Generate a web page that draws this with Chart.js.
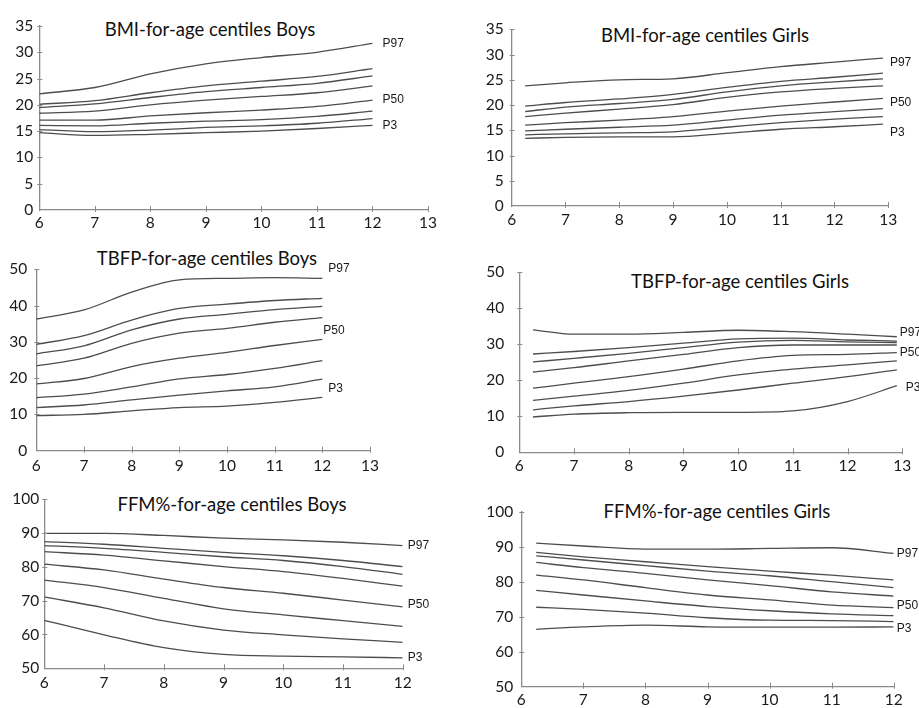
<!DOCTYPE html>
<html><head><meta charset="utf-8">
<script src="https://cdn.jsdelivr.net/npm/chart.js@4/dist/chart.umd.min.js"></script>
<style>
html,body{margin:0;padding:0;background:#fff;width:919px;height:708px;overflow:hidden;position:relative;}
canvas{position:absolute;}
.title{position:absolute;font-family:Lato,"Open Sans",sans-serif;font-size:18.5px;color:#111;white-space:nowrap;transform:translate(-50%,-50%);line-height:22px;}
</style></head><body>
<div class="title" style="left:210px;top:29px">BMI-for-age centiles Boys</div>
<div class="title" style="left:705px;top:35px">BMI-for-age centiles Girls</div>
<div class="title" style="left:207px;top:258px">TBFP-for-age centiles Boys</div>
<div class="title" style="left:740px;top:281px">TBFP-for-age centiles Girls</div>
<div class="title" style="left:232px;top:504px">FFM%-for-age centiles Boys</div>
<div class="title" style="left:717px;top:511px">FFM%-for-age centiles Girls</div>
<canvas id="c1"></canvas><canvas id="c2"></canvas><canvas id="c3"></canvas>
<canvas id="c4"></canvas><canvas id="c5"></canvas><canvas id="c6"></canvas>
<script>
// ---------- DATA ----------
const centiles = ['P3','P10','P25','P50','P75','P85','P90','P97'];
const labelledCentiles = ['P3','P50','P97'];

const bmiBoysAges = [6,7,8,9,10,11,12];
const bmiBoysValues = [
  [14.7,14.2,14.4,14.7,15.0,15.5,16.1],
  [15.3,14.9,15.2,15.7,16.0,16.5,17.4],
  [16.1,16.0,16.5,16.9,17.2,17.8,18.8],
  [17.1,17.1,17.9,18.5,19.0,19.7,20.9],
  [18.4,18.8,20.0,20.9,21.6,22.3,23.6],
  [19.5,20.2,21.4,22.5,23.3,24.1,25.5],
  [20.1,20.8,22.3,23.6,24.5,25.4,26.9],
  [22.1,23.3,25.9,27.8,29.0,30.0,31.7]
];

const bmiGirlsAges = [6.25,7,8,9,10,11,12,12.9];
const bmiGirlsValues = [
  [13.4,13.6,13.7,13.7,14.4,15.2,15.7,16.2],
  [14.1,14.3,14.5,14.7,15.6,16.5,17.2,17.7],
  [14.9,15.2,15.6,16.0,17.0,18.0,18.7,19.3],
  [16.0,16.5,17.0,17.7,18.8,19.8,20.6,21.3],
  [17.7,18.4,19.2,20.1,21.5,22.6,23.3,23.8],
  [18.7,19.6,20.3,21.1,22.6,23.8,24.6,25.2],
  [19.8,20.5,21.2,22.1,23.5,24.7,25.5,26.3],
  [23.8,24.4,25.0,25.2,26.4,27.6,28.5,29.3]
];

const tbfpBoysAges = [6,7,8,9,10,11,12];
const tbfpBoysValues = [
  [9.7,10.0,11.0,11.9,12.3,13.3,14.7],
  [11.9,12.6,14.0,15.3,16.5,17.6,19.7],
  [14.6,15.6,17.6,19.8,21.0,22.7,24.8],
  [18.4,19.9,23.2,25.5,27.1,29.0,30.7],
  [23.4,25.5,29.6,32.4,33.7,35.4,36.7],
  [26.7,28.9,33.3,36.3,37.6,38.9,39.8],
  [29.3,31.7,36.0,39.2,40.4,41.4,42.0],
  [36.3,38.8,43.7,47.1,47.5,47.7,47.5]
];

const tbfpGirlsAges = [6.25,7,8,9,10,11,12,12.9];
const tbfpGirlsValues = [
  [9.8,10.6,11.0,11.1,11.1,11.5,14.1,18.5],
  [11.8,12.9,14.1,15.6,17.3,19.2,21.0,22.9],
  [14.4,15.6,17.2,19.2,21.5,23.1,24.3,25.4],
  [17.8,19.2,21.0,23.1,25.4,26.9,27.2,27.7],
  [22.3,23.5,25.4,27.2,29.1,29.8,29.8,29.8],
  [25.1,26.1,27.5,29.1,30.6,31.1,30.7,30.5],
  [27.3,28.0,29.1,30.3,31.5,31.7,31.2,30.9],
  [34.0,32.8,32.8,33.3,33.9,33.5,32.8,32.1]
];

const ffmBoysAges = [6,7,8,9,10,11,12];
const ffmBoysValues = [
  [64.2,59.9,56.1,54.1,53.6,53.4,53.1],
  [71.1,67.9,64.0,61.3,59.9,58.7,57.7],
  [76.1,73.9,70.7,67.6,65.8,64.1,62.4],
  [80.8,79.1,76.4,73.9,72.2,70.2,68.2],
  [84.5,83.5,81.8,80.1,78.6,76.6,74.3],
  [86.3,85.5,84.3,83.0,81.9,80.1,77.8],
  [87.5,86.7,85.5,84.3,83.3,81.9,80.1],
  [89.9,89.9,89.3,88.5,88.0,87.3,86.3]
];

const ffmGirlsAges = [6.24,7,8,9,10,11,12];
const ffmGirlsValues = [
  [66.4,67.1,67.6,67.1,67.0,67.0,67.1],
  [72.7,72.1,71.0,69.7,69.0,68.9,68.6],
  [77.5,76.2,74.5,72.9,71.7,70.8,70.3],
  [81.9,80.5,78.3,76.2,74.8,73.3,72.6],
  [85.5,84.0,82.4,80.5,78.9,77.1,75.9],
  [87.4,86.2,84.6,83.0,81.7,80.0,78.3],
  [88.4,87.1,85.7,84.3,83.0,81.9,80.5],
  [91.0,90.2,89.3,89.3,89.5,89.7,88.1]
];

// ---------- STYLE / LAYOUT ----------
const LINE = '#4d4d4d', AXIS = '#8a8a8a', TEXT = '#1a1a1a';
const TICK_FONT = {family:'Lato, "Open Sans", sans-serif', size:15.5};

const endLabelPlugin = {
  id:'endLabels',
  afterDatasetsDraw(chart, args, opts){
    const ctx = chart.ctx;
    ctx.save();
    ctx.font = '12px "Liberation Sans", Arial, sans-serif';
    ctx.fillStyle = TEXT;
    ctx.textAlign = 'left';
    ctx.textBaseline = 'middle';
    (opts.items||[]).forEach(it=>{
      const idx = centiles.indexOf(it.name);
      const meta = chart.getDatasetMeta(idx);
      const pt = meta.data[meta.data.length-1];
      ctx.fillText(it.name, pt.x + it.dx, pt.y + it.dy);
    });
    ctx.restore();
  }
};

// small tick marks crossing the axes, placed at the scales' own tick values
const crossTickPlugin = {
  id:'crossTicks',
  afterDraw(chart){
    const ctx = chart.ctx, xs = chart.scales.x, ys = chart.scales.y;
    const ca = chart.chartArea;
    ctx.save();
    ctx.strokeStyle = AXIS; ctx.lineWidth = 1;
    ctx.beginPath();
    xs.ticks.forEach(t=>{
      if (t.value === xs.min) return;
      const px = Math.round(xs.getPixelForValue(t.value)) + 0.5;
      ctx.moveTo(px, ca.bottom - 4); ctx.lineTo(px, ca.bottom + 2);
    });
    ys.ticks.forEach(t=>{
      if (t.value === ys.min) return;
      const py = Math.round(ys.getPixelForValue(t.value)) + 0.5;
      ctx.moveTo(ca.left - 2, py); ctx.lineTo(ca.left + 3, py);
    });
    ctx.stroke();
    ctx.restore();
  }
};

function makeChart(id, box, area, ages, values, xr, yr, pads, labelOffsets){
  const cv = document.getElementById(id);
  cv.width = box[2]; cv.height = box[3];
  cv.style.left = box[0]+'px'; cv.style.top = box[1]+'px';
  const W = area[0]-box[0], H = box[1]+box[3]-area[3];
  const datasets = values.map((row,i)=>({
    label: centiles[i],
    data: row.map((v,j)=>({x:ages[j], y:v})),
    borderColor: LINE, borderWidth: 1.3, pointRadius: 0,
    cubicInterpolationMode: 'monotone', fill:false
  }));
  const items = labelledCentiles.map(n=>({name:n, dx:labelOffsets[n][0], dy:labelOffsets[n][1]}));
  return new Chart(cv, {
    type:'line',
    data:{datasets},
    plugins:[endLabelPlugin, crossTickPlugin],
    options:{
      responsive:false, animation:false, devicePixelRatio:1,
      layout:{padding:{left:0, top: area[1]-box[1], right: box[0]+box[2]-area[2], bottom:0}},
      plugins:{legend:{display:false}, tooltip:{enabled:false}, title:{display:false}, endLabels:{items}},
      scales:{
        x:{type:'linear', min:xr[0], max:xr[1],
           ticks:{stepSize:1, color:TEXT, font:TICK_FONT, padding:pads[0], maxRotation:0},
           grid:{display:true, drawOnChartArea:false, drawTicks:false, color:AXIS},
           border:{display:true, color:AXIS, width:1.3},
           afterFit(s){ s.height = H; }},
        y:{type:'linear', min:yr[0], max:yr[1],
           ticks:{stepSize:yr[2], color:TEXT, font:TICK_FONT, padding:pads[1]},
           grid:{display:true, drawOnChartArea:false, drawTicks:false, color:AXIS},
           border:{display:true, color:AXIS, width:1.3},
           afterFit(s){ s.width = W; }}
      }
    }
  });
}

makeChart('c1',[0,0,460,240],[39.3,26,428,210], bmiBoysAges, bmiBoysValues,[6,13],[0,35,5],[4,6],
  {P97:[10,0],P50:[10,0],P3:[10,0]});
makeChart('c2',[460,0,459,240],[511.7,29.3,888.3,206], bmiGirlsAges, bmiGirlsValues,[6,13],[0,35,5],[4.5,8],
  {P97:[7,5],P50:[7,4],P3:[7,8]});
makeChart('c3',[0,240,460,240],[36.3,269.3,370,450.7], tbfpBoysAges, tbfpBoysValues,[6,13],[0,50,10],[6,9],
  {P97:[6,-10],P50:[1,-9],P3:[6,-9]});
makeChart('c4',[460,240,459,240],[519.3,272.3,902.3,452.3], tbfpGirlsAges, tbfpGirlsValues,[6,13],[0,50,10],[4,15],
  {P97:[3,-4],P50:[3,0],P3:[9,2]});
makeChart('c5',[0,470,460,238],[44.3,499.3,402.7,668.3], ffmBoysAges, ffmBoysValues,[6,12],[50,100,10],[5,5],
  {P97:[5,0],P50:[5,-2],P3:[5,0]});
makeChart('c6',[460,470,459,238],[521.3,511.7,893.7,686.7], ffmGirlsAges, ffmGirlsValues,[6,12],[50,100,10],[4,8],
  {P97:[3,0],P50:[3,-2],P3:[3,2]});
</script>
</body></html>
